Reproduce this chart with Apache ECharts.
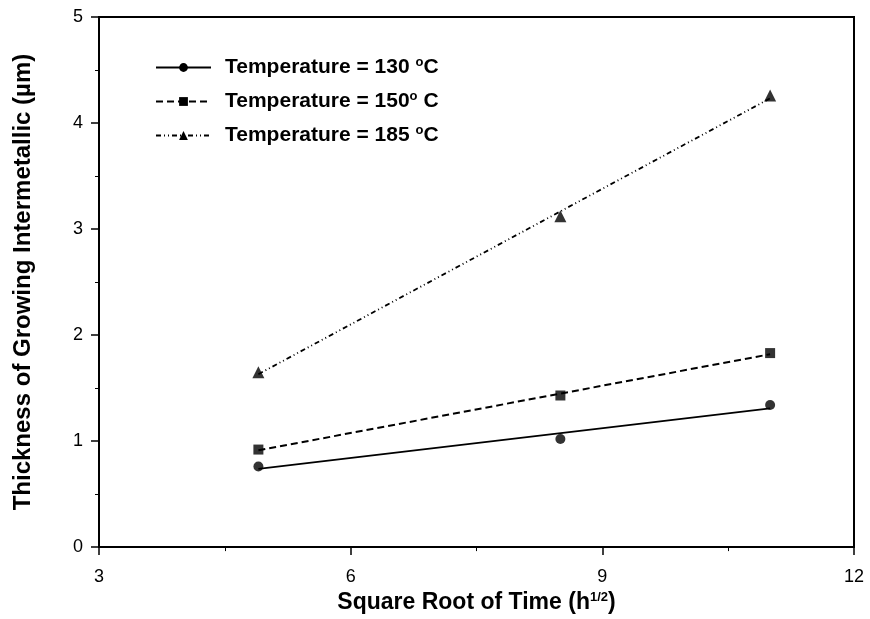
<!DOCTYPE html>
<html><head><meta charset="utf-8">
<script src="https://cdn.jsdelivr.net/npm/echarts@6/dist/echarts.min.js"></script>
<style>html,body{margin:0;padding:0;background:#fff}#c{width:870px;height:619px}</style>
</head><body><div id="c"></div>
<script>
// ---- data ----
const xValues = [4.9, 8.5, 11];          // square root of time (h^1/2)
const t130 = [0.76, 1.02, 1.34];          // thickness (µm)
const t150 = [0.92, 1.43, 1.83];
const t185 = [1.65, 3.12, 4.26];
const seriesNames = ['Temperature = 130 °C', 'Temperature = 150° C', 'Temperature = 185 °C'];
const legendLabels = ['Temperature = 130 {s|o}C', 'Temperature = 150{s|o} C', 'Temperature = 185 {s|o}C'];
const xAxisMin = 3, xAxisMax = 12, xAxisStep = 3;
const yAxisMin = 0, yAxisMax = 5, yAxisStep = 1;
const xTitle = 'Square Root of Time (h{s|1/2})';
const yTitle = 'Thickness of Growing Intermetallic (\u00b5m)';

// least-squares trend line through each data set (drawn between first and last x)
function trend(xs, ys) {
  const n = xs.length;
  const mx = xs.reduce((a, b) => a + b, 0) / n;
  const my = ys.reduce((a, b) => a + b, 0) / n;
  let sxy = 0, sxx = 0;
  for (let i = 0; i < n; i++) { sxy += (xs[i] - mx) * (ys[i] - my); sxx += (xs[i] - mx) ** 2; }
  const b = sxy / sxx, a = my - b * mx;
  return [[xs[0], a + b * xs[0]], [xs[n - 1], a + b * xs[n - 1]]];
}
const pts = (ys) => xValues.map((x, i) => [x, ys[i]]);

const FONT = "'Liberation Sans', Arial, sans-serif";
const sets = [t130, t150, t185];
const symbols = ['circle', 'rect', 'triangle'];
const symSizes = [10, 10, 12];
const dashes = ['solid', [7, 4], [5, 3, 1, 3, 1, 3]];
const widths = [1.8, 2, 1.8];

const series = [];
sets.forEach((ys, k) => {
  series.push({
    name: seriesNames[k], type: 'line', data: trend(xValues, ys),
    symbol: symbols[k], symbolSize: symSizes[k], showSymbol: false,
    lineStyle: { color: '#000', width: widths[k], type: dashes[k] },
    itemStyle: { color: '#000' }, z: 2, silent: true
  });
});
sets.forEach((ys, k) => {
  series.push({
    name: seriesNames[k] + ' pts', type: 'scatter', data: pts(ys),
    symbol: symbols[k], symbolSize: symSizes[k],
    itemStyle: { color: '#000' }, z: 3
  });
});

const supStyle = { fontFamily: FONT, fontSize: 13, fontWeight: 'bold', color: '#000', padding: [0, 0, 10, 0] };

const chart = echarts.init(document.getElementById('c'), null, { renderer: 'canvas' });
chart.setOption({
  animation: false,
  backgroundColor: '#fff',
  grid: { left: 99, right: 16, top: 17, bottom: 71, show: true, borderColor: '#000', borderWidth: 2, backgroundColor: 'transparent' },
  legend: {
    data: seriesNames, orient: 'vertical', left: 150, top: 51,
    itemWidth: 55, itemHeight: 11, itemGap: 12,
    formatter: (name) => '{g|}' + legendLabels[seriesNames.indexOf(name)],
    textStyle: { fontFamily: FONT, fontSize: 21, fontWeight: 'bold', color: '#000',
      rich: { g: { width: 9 }, s: { fontFamily: FONT, fontSize: 13, fontWeight: 'bold', color: '#000', padding: [0, 0, 10, 0] } } }
  },
  xAxis: {
    type: 'value', min: xAxisMin, max: xAxisMax, interval: xAxisStep,
    name: xTitle, nameLocation: 'middle', nameGap: 35,
    nameTextStyle: { fontFamily: FONT, fontSize: 23, fontWeight: 'bold', color: '#000', rich: { s: supStyle } },
    axisLine: { show: true, lineStyle: { color: '#000', width: 2 } },
    axisTick: { show: true, length: 8, lineStyle: { color: '#000', width: 1.5 } },
    minorTick: { show: true, splitNumber: 2, length: 4, lineStyle: { color: '#000', width: 1 } },
    splitLine: { show: false },
    axisLabel: { fontFamily: FONT, fontSize: 18, color: '#000', margin: 21 }
  },
  yAxis: {
    type: 'value', min: yAxisMin, max: yAxisMax, interval: yAxisStep,
    name: yTitle, nameLocation: 'middle', nameGap: 64, nameRotate: 90,
    nameTextStyle: { fontFamily: FONT, fontSize: 24, fontWeight: 'bold', color: '#000' },
    axisLine: { show: true, lineStyle: { color: '#000', width: 2 } },
    axisTick: { show: true, length: 8, lineStyle: { color: '#000', width: 1.5 } },
    minorTick: { show: true, splitNumber: 2, length: 4, lineStyle: { color: '#000', width: 1 } },
    splitLine: { show: false },
    axisLabel: { fontFamily: FONT, fontSize: 18, color: '#000', margin: 16 }
  },
  series: series
});
</script>
</body></html>
